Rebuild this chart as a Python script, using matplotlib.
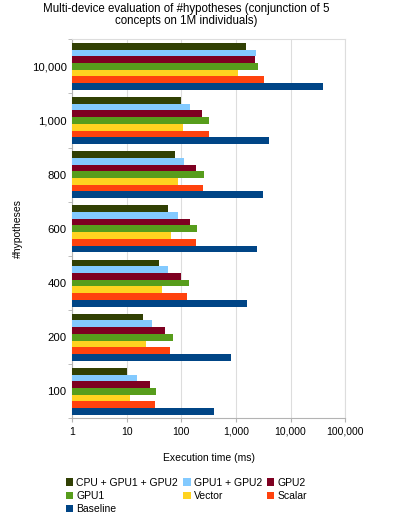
import matplotlib
matplotlib.use('Agg')
import matplotlib.pyplot as plt
import numpy as np

plt.rcParams['font.family'] = ['Liberation Sans', 'DejaVu Sans']

# ! 数据 (从图上读出来的, ms)
categories = ['100', '200', '400', '600', '800', '1,000', '10,000']
series_names = ['CPU + GPU1 + GPU2', 'GPU1 + GPU2', 'GPU2', 'GPU1', 'Vector', 'Scalar', 'Baseline']
cpu_gpu1_gpu2 = [9.1, 19, 38.7, 57, 77, 98, 1500]
gpu1_gpu2 = [14.3, 27.6, 55.8, 84, 111, 145, 2285]
gpu2 = [25.4, 50, 98, 141, 187, 234, 2220]
gpu1 = [33.7, 69, 135, 195, 255, 315, 2520]
vector = [10.3, 21.4, 43, 64, 86, 108, 1085]
scalar = [31.3, 62, 126, 187, 251, 315, 3245]
baseline = [399, 796, 1585, 2380, 3150, 4000, 39500]
x_ticks = [1, 10, 100, 1000, 10000, 100000]
x_tick_labels = ['1', '10', '100', '1,000', '10,000', '100,000']

colors = ['#314004', '#83caff', '#7e0021', '#579d1c', '#ffd320', '#ff420e', '#004586']
all_series = [cpu_gpu1_gpu2, gpu1_gpu2, gpu2, gpu1, vector, scalar, baseline]

fig = plt.figure(figsize=(3.99, 5.16), dpi=100)
ax = fig.add_axes([0.181, 0.189, 0.684, 0.735])

n = len(all_series)
h = 0.124
y = np.arange(len(categories))
for i, (vals, name, c) in enumerate(zip(all_series, series_names, colors)):
    # 第一个系列在最上面
    offset = (n - 1) / 2 * h - i * h
    ax.barh(y + offset, vals, height=h, left=1, color=c, label=name,
            edgecolor='none', zorder=3)

ax.set_xscale('log')
ax.set_xlim(1, 100000)
ax.set_ylim(-0.5, len(categories) - 0.5)
ax.set_xticks(x_ticks)
ax.set_xticklabels(x_tick_labels, fontsize=7.5)
ax.xaxis.set_minor_locator(matplotlib.ticker.NullLocator())
ax.set_yticks(y)
ax.set_yticklabels(categories, fontsize=8.2)
ax.set_yticks(np.arange(len(categories) + 1) - 0.5, minor=True)
ax.tick_params(axis='y', which='major', length=0, pad=4)
ax.tick_params(axis='y', which='minor', length=3, color='#b3b3b3')
ax.tick_params(axis='x', which='major', length=3, color='#b3b3b3', pad=3)

ax.grid(axis='x', color='#dddddd', linewidth=0.8, zorder=0)
for s in ax.spines.values():
    s.set_color('#dddddd')
ax.spines['left'].set_color('#b3b3b3')
ax.spines['bottom'].set_color('#b3b3b3')

ax.set_xlabel('Execution time (ms)', fontsize=7.5, labelpad=12)
ax.set_ylabel('#hypotheses', fontsize=7.5, labelpad=6)
fig.text(0.467, 0.995, 'Multi-device evaluation of #hypotheses (conjunction of 5\nconcepts on 1M individuals)',
         ha='center', va='top', fontsize=8.3, linespacing=1.1)

# 图例按行排列
handles, labels = ax.get_legend_handles_labels()
order = [0, 3, 6, 1, 4, 2, 5]
fig.legend([handles[k] for k in order], [labels[k] for k in order],
           loc='lower left', bbox_to_anchor=(0.16, 0.0), ncol=3, fontsize=7.5,
           frameon=False, handlelength=0.7, handleheight=0.7, handletextpad=0.3,
           columnspacing=0.5, labelspacing=0.3, borderpad=0.1, borderaxespad=0.1)

fig.savefig('out.png', dpi=100)
